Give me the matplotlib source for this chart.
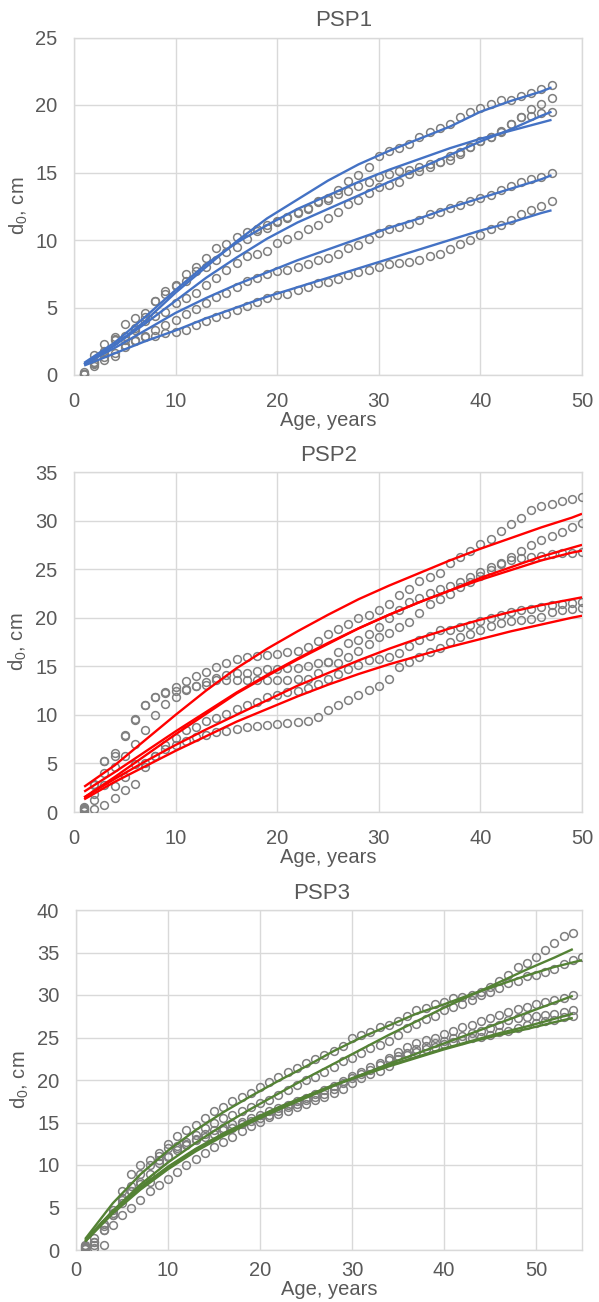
#!/usr/bin/env python3
"""Stem diameter growth by age on three permanent sample plots, with fitted curves."""
import matplotlib.pyplot as plt

OUT_PNG = "out.png"

GRAY = "#7f7f7f"
TEXT = "#595959"
GRID = "#d9d9d9"

# ---- PSP1: measured d0 (cm) by age, five trees ----
PSP1_AGE = list(range(1, 48))
PSP1_TREE_A = [0.2, 1.5, 2.3, 2.8, 3.8, 4.2, 4.6, 5.5, 6.2, 6.7,
               7.5, 8.0, 8.7, 9.4, 9.7, 10.2, 10.6, 10.8, 11.1, 11.4,
               11.7, 12.1, 12.4, 12.9, 13.1, 13.7, 14.4, 14.8, 15.4, 16.2,
               16.6, 16.8, 17.1, 17.6, 18.0, 18.3, 18.6, 19.1, 19.5, 19.8,
               20.1, 20.4, 20.4, 20.7, 20.9, 21.2, 21.5]
PSP1_TREE_B = [0.1, 1.0, 1.6, 2.6, 2.9, 3.5, 4.0, 5.5, 6.0, 6.6,
               7.0, 7.7, 8.0, 8.5, 9.1, 9.5, 10.1, 10.7, 10.9, 11.3,
               11.6, 12.0, 12.3, 12.8, 13.0, 13.4, 13.6, 14.0, 14.3, 14.7,
               14.9, 15.1, 15.2, 15.4, 15.6, 15.8, 16.2, 16.5, 16.9, 17.3,
               17.6, 18.1, 18.6, 19.1, 19.7, 20.1, 20.5]
PSP1_TREE_C = [0.1, 0.8, 1.8, 2.7, 2.6, 3.3, 4.3, 4.4, 4.7, 5.3,
               5.7, 6.1, 6.7, 7.2, 7.8, 8.3, 8.8, 9.0, 9.2, 9.8,
               10.1, 10.4, 10.8, 11.1, 11.6, 12.1, 12.7, 13.0, 13.5, 13.9,
               14.1, 14.3, 14.9, 15.1, 15.4, 15.8, 15.9, 16.4, 16.9, 17.3,
               17.6, 18.0, 18.6, 19.1, 19.2, 19.4, 19.5]
PSP1_TREE_D = [0.1, 0.9, 1.3, 1.6, 2.2, 2.6, 2.9, 3.3, 3.7, 4.1,
               4.5, 4.9, 5.3, 5.8, 6.1, 6.5, 7.0, 7.2, 7.5, 7.7,
               7.8, 8.0, 8.2, 8.5, 8.7, 9.0, 9.4, 9.6, 10.1, 10.5,
               10.8, 11.0, 11.2, 11.5, 11.9, 12.1, 12.4, 12.6, 12.9, 13.1,
               13.3, 13.7, 14.0, 14.3, 14.5, 14.7, 15.0]
PSP1_TREE_E = [0.1, 0.7, 1.1, 1.4, 2.1, 2.5, 2.8, 2.9, 3.1, 3.2,
               3.3, 3.7, 4.0, 4.3, 4.5, 4.8, 5.1, 5.4, 5.7, 5.9,
               6.0, 6.3, 6.5, 6.8, 6.9, 7.1, 7.4, 7.6, 7.8, 8.0,
               8.2, 8.3, 8.4, 8.5, 8.8, 9.0, 9.3, 9.7, 10.0, 10.4,
               10.8, 11.1, 11.5, 11.9, 12.2, 12.5, 12.9]

# fitted growth curves, PSP1
PSP1_FIT_AGE = [1, 4, 7, 10, 13, 16, 19, 22, 25, 28, 31, 34, 37, 40, 43, 46, 47]
PSP1_FIT_1 = [0.8, 2.2, 4.0, 6.1, 8.0, 9.9, 11.6, 13.0, 14.4, 15.6, 16.6, 17.5, 18.4, 19.5, 20.3, 21.0, 21.3]
PSP1_FIT_2 = [0.9, 2.4, 4.3, 6.3, 8.2, 9.8, 11.1, 12.3, 13.3, 14.3, 15.2, 16.0, 16.8, 17.5, 18.1, 18.7, 18.9]
PSP1_FIT_3 = [0.8, 2.2, 3.8, 5.5, 7.2, 8.7, 10.1, 11.3, 12.3, 13.3, 14.3, 15.3, 16.3, 17.3, 18.2, 19.2, 19.5]
PSP1_FIT_4 = [0.8, 2.0, 3.3, 4.6, 5.7, 6.7, 7.6, 8.5, 9.3, 10.1, 10.9, 11.6, 12.4, 13.1, 13.8, 14.5, 14.8]
PSP1_FIT_5 = [0.7, 1.6, 2.5, 3.3, 4.2, 5.0, 5.8, 6.5, 7.2, 7.9, 8.6, 9.3, 10.0, 10.7, 11.3, 12.0, 12.2]

# ---- PSP2 ----
PSP2_AGE = list(range(1, 51))
PSP2_TREE_A = [0.5, 2.9, 5.3, 6.1, 7.9, 9.6, 11.0, 11.8, 12.4, 12.9,
               13.5, 14.0, 14.4, 14.9, 15.3, 15.8, 16.0, 16.1, 16.2, 16.3,
               16.5, 16.6, 17.0, 17.6, 18.3, 18.8, 19.4, 20.0, 20.3, 20.8,
               21.4, 22.3, 23.0, 23.8, 24.2, 24.6, 25.6, 26.3, 26.9, 27.6,
               28.1, 28.9, 29.6, 30.3, 31.1, 31.5, 31.7, 32.0, 32.2, 32.4]
PSP2_TREE_B = [0.4, 2.8, 5.2, 5.8, 7.8, 9.5, 11.0, 11.8, 12.3, 12.5,
               12.7, 13.0, 13.4, 13.8, 14.1, 14.3, 14.3, 14.5, 14.7, 14.7,
               14.8, 14.8, 15.0, 15.3, 15.4, 16.5, 17.4, 17.7, 18.3, 19.0,
               20.0, 20.8, 21.6, 22.0, 22.5, 23.0, 23.3, 23.7, 24.2, 24.7,
               25.2, 25.6, 26.3, 26.9, 27.5, 28.0, 28.4, 28.8, 29.3, 29.7]
PSP2_TREE_C = [0.3, 1.9, 4.0, 4.6, 5.8, 7.0, 8.4, 10.0, 11.1, 11.8,
               12.6, 13.0, 13.1, 13.6, 13.6, 13.6, 13.6, 13.6, 13.6, 13.6,
               13.6, 13.7, 13.7, 14.3, 15.4, 15.3, 16.0, 16.6, 17.3, 18.0,
               18.4, 19.0, 19.6, 20.5, 21.4, 21.9, 22.4, 23.2, 23.7, 24.3,
               24.9, 25.5, 25.9, 26.1, 26.3, 26.4, 26.6, 26.7, 26.7, 26.8]
PSP2_TREE_D = [0.2, 1.2, 2.8, 2.7, 3.6, 4.9, 5.0, 5.8, 6.9, 7.6,
               8.4, 8.8, 9.4, 9.7, 10.1, 10.6, 11.0, 11.3, 11.8, 12.0,
               12.4, 12.5, 12.8, 13.2, 13.7, 14.2, 14.7, 15.1, 15.6, 15.8,
               16.0, 16.4, 17.1, 17.7, 18.1, 18.7, 18.7, 19.0, 19.3, 19.7,
               20.0, 20.3, 20.6, 20.8, 20.9, 21.1, 21.3, 21.4, 21.5, 21.6]
PSP2_TREE_E = [0.1, 0.3, 0.7, 1.4, 2.3, 2.9, 4.6, 5.8, 6.5, 6.9,
               7.3, 7.7, 7.9, 8.2, 8.3, 8.5, 8.8, 8.9, 9.0, 9.1,
               9.2, 9.3, 9.4, 9.8, 10.5, 11.0, 11.5, 12.0, 12.6, 13.0,
               13.7, 14.9, 15.4, 16.0, 16.5, 16.9, 17.5, 18.0, 18.3, 18.7,
               19.1, 19.5, 19.7, 19.8, 19.9, 20.1, 20.6, 20.8, 20.9, 21.0]

PSP2_FIT_AGE = [1, 4, 7, 10, 13, 16, 19, 22, 25, 28, 31, 34, 37, 40, 43, 46, 49, 50]
PSP2_FIT_1 = [2.6, 4.8, 7.4, 10.0, 12.5, 14.8, 16.8, 18.6, 20.3, 21.9, 23.3, 24.6, 25.9, 27.1, 28.2, 29.3, 30.3, 30.7]
PSP2_FIT_2 = [2.1, 4.1, 6.2, 8.3, 10.3, 12.3, 14.1, 15.8, 17.4, 18.9, 20.3, 21.6, 22.8, 24.1, 25.2, 26.3, 27.2, 27.5]
PSP2_FIT_3 = [1.5, 3.6, 5.8, 8.0, 10.1, 12.2, 14.0, 15.7, 17.3, 18.9, 20.3, 21.6, 22.8, 23.9, 24.9, 25.9, 26.7, 26.9]
PSP2_FIT_4 = [1.5, 3.4, 5.2, 6.9, 8.5, 10.0, 11.5, 13.0, 14.3, 15.6, 16.8, 17.9, 18.9, 19.8, 20.6, 21.3, 21.9, 22.1]
PSP2_FIT_5 = [1.3, 3.1, 4.7, 6.3, 7.8, 9.3, 10.6, 11.9, 13.1, 14.2, 15.2, 16.1, 17.0, 17.8, 18.6, 19.3, 20.0, 20.2]

# ---- PSP3 ----
PSP3_AGE_LONG = list(range(1, 56))
PSP3_AGE = list(range(1, 55))
PSP3_TREE_A = [0.6, 1.4, 3.1, 4.7, 6.9, 8.9, 10.0, 10.6, 11.4, 12.5,
               13.4, 14.1, 14.7, 15.5, 16.3, 16.8, 17.5, 18.0, 18.5, 19.2,
               19.8, 20.4, 21.0, 21.4, 22.0, 22.5, 23.0, 23.4, 24.0, 24.9,
               25.3, 25.7, 26.2, 26.5, 26.9, 27.5, 28.2, 28.5, 29.0, 29.2,
               29.6, 29.8, 30.0, 30.3, 30.4, 30.8, 31.4, 31.6, 32.2, 32.4,
               32.7, 33.1, 33.7, 34.1, 34.5]
PSP3_TREE_B = [0.5, 1.0, 2.8, 4.4, 6.1, 7.5, 9.0, 10.0, 11.1, 12.0,
               12.2, 12.7, 13.5, 14.3, 14.9, 15.5, 15.9, 16.3, 16.8, 17.3,
               17.6, 18.2, 18.8, 19.4, 20.0, 20.4, 20.9, 21.5, 22.2, 22.6,
               23.2, 23.8, 24.1, 24.6, 25.3, 26.1, 26.6, 27.2, 27.5, 28.2,
               28.6, 29.0, 29.4, 30.0, 31.0, 31.6, 32.4, 33.3, 33.8, 34.5,
               35.3, 36.1, 36.9, 37.3]
PSP3_TREE_C = [0.4, 1.0, 2.4, 4.1, 5.9, 7.0, 8.0, 8.9, 10.6, 11.1,
               12.0, 12.5, 13.1, 13.6, 14.1, 14.4, 14.8, 15.1, 15.5, 15.9,
               16.3, 16.7, 17.1, 17.5, 17.9, 18.4, 18.8, 19.3, 19.9, 20.5,
               21.0, 21.5, 22.0, 22.6, 23.3, 23.9, 24.3, 24.7, 25.0, 25.4,
               25.8, 26.2, 26.5, 26.9, 27.3, 27.6, 28.0, 28.3, 28.6, 28.9,
               29.2, 29.4, 29.6, 30.0]
PSP3_TREE_D = [0.2, 0.6, 2.4, 4.1, 5.5, 7.0, 7.8, 8.0, 10.2, 11.0,
               11.8, 12.4, 12.9, 13.3, 13.7, 14.1, 14.4, 14.8, 15.2, 15.5,
               15.9, 16.3, 16.8, 17.2, 17.6, 18.0, 18.4, 19.0, 19.6, 20.2,
               20.7, 21.2, 21.8, 22.3, 22.8, 23.2, 23.6, 24.0, 24.3, 24.6,
               24.9, 25.2, 25.5, 25.8, 26.1, 26.5, 27.1, 27.3, 27.4, 27.5,
               27.6, 27.8, 28.0, 28.2]
PSP3_TREE_E = [0.1, 0.2, 0.6, 2.9, 4.1, 5.0, 5.9, 6.9, 7.6, 8.4,
               9.2, 10.0, 10.7, 11.4, 12.1, 12.7, 13.3, 14.0, 14.6, 15.1,
               15.6, 16.0, 16.4, 16.8, 17.2, 17.6, 18.0, 18.5, 19.0, 19.7,
               20.2, 20.7, 21.1, 21.6, 22.5, 22.9, 23.3, 23.6, 23.9, 24.2,
               24.5, 24.7, 24.9, 25.1, 25.3, 25.6, 25.8, 26.1, 26.5, 26.7,
               26.9, 27.1, 27.4, 27.5]

PSP3_FIT_AGE = [1, 4, 7, 10, 13, 16, 19, 22, 25, 28, 31, 34, 37, 40, 43, 46, 49, 52, 54]
PSP3_FIT_AGE_LONG = [1, 4, 7, 10, 13, 16, 19, 22, 25, 28, 31, 34, 37, 40, 43, 46, 49, 52, 55]
PSP3_FIT_1 = [1.3, 5.5, 8.9, 11.7, 14.1, 16.2, 18.1, 19.9, 21.6, 23.4, 25.0, 26.4, 27.8, 28.9, 30.1, 31.2, 32.3, 33.3, 34.1]
PSP3_FIT_2 = [1.0, 4.6, 7.7, 10.3, 12.6, 14.7, 16.6, 18.4, 20.2, 21.9, 23.6, 25.3, 26.9, 28.5, 30.0, 31.5, 33.0, 34.4, 35.4]
PSP3_FIT_3 = [1.0, 4.3, 7.1, 9.5, 11.6, 13.4, 15.0, 16.5, 17.9, 19.3, 20.6, 21.9, 23.1, 24.3, 25.5, 26.7, 27.9, 29.1, 29.9]
PSP3_FIT_4 = [1.1, 4.5, 7.3, 9.7, 11.8, 13.6, 15.2, 16.7, 18.1, 19.4, 20.6, 21.7, 22.7, 23.7, 24.6, 25.5, 26.3, 27.2, 27.8]
PSP3_FIT_5 = [1.2, 4.6, 7.4, 9.8, 11.9, 13.7, 15.3, 16.8, 18.1, 19.4, 20.5, 21.6, 22.6, 23.6, 24.5, 25.3, 26.0, 26.8, 27.3]


def draw_panel(ax, title, title_x, trees, fits, color, xmax, ymax, ystep,
               xpad=12, xlabelpad=0):
    for ages, d in trees:
        ax.plot(ages, d, ls="none", marker="o", mfc="none", mec=GRAY,
                ms=5.6, mew=1.1, zorder=3)
    for ages, f in fits:
        ax.plot(ages, f, color=color, lw=1.7, zorder=4, solid_capstyle="butt")

    ax.set_xlim(0, xmax)
    ax.set_ylim(0, ymax)
    ax.set_xticks(range(0, xmax + 1, 10))
    ax.set_yticks(range(0, ymax + 1, ystep))
    ax.grid(True, color=GRID, lw=1.0)
    ax.set_axisbelow(True)
    for sp in ax.spines.values():
        sp.set_color(GRID)
        sp.set_linewidth(1.0)
    ax.tick_params(length=0, labelsize=14.5, labelcolor=TEXT)
    ax.tick_params(axis="y", pad=12)
    ax.tick_params(axis="x", pad=xpad)
    ax.set_title(title, fontsize=16, color=TEXT, pad=8, x=title_x)
    ax.set_xlabel("Age, years", fontsize=14.5, color=TEXT, labelpad=xlabelpad)
    ax.set_ylabel("d$_0$, cm", fontsize=14.5, color=TEXT, labelpad=4)


def main():
    plt.rcParams["font.family"] = ["Liberation Sans", "DejaVu Sans"]
    plt.rcParams["mathtext.default"] = "regular"

    fig = plt.figure(figsize=(5.99, 13.02), dpi=100)
    ax1 = fig.add_axes([74 / 599, 1 - 375 / 1302, 508 / 599, 337.5 / 1302])
    ax2 = fig.add_axes([74 / 599, 1 - 812 / 1302, 508 / 599, 340 / 1302])
    ax3 = fig.add_axes([76 / 599, 1 - 1250 / 1302, 506 / 599, 340 / 1302])

    psp1_trees = [(PSP1_AGE, t) for t in
                  (PSP1_TREE_A, PSP1_TREE_B, PSP1_TREE_C, PSP1_TREE_D, PSP1_TREE_E)]
    psp1_fits = [(PSP1_FIT_AGE, f) for f in
                 (PSP1_FIT_1, PSP1_FIT_2, PSP1_FIT_3, PSP1_FIT_4, PSP1_FIT_5)]
    draw_panel(ax1, "PSP1", 0.53, psp1_trees, psp1_fits, "#4472c4", 50, 25, 5)

    psp2_trees = [(PSP2_AGE, t) for t in
                  (PSP2_TREE_A, PSP2_TREE_B, PSP2_TREE_C, PSP2_TREE_D, PSP2_TREE_E)]
    psp2_fits = [(PSP2_FIT_AGE, f) for f in
                 (PSP2_FIT_1, PSP2_FIT_2, PSP2_FIT_3, PSP2_FIT_4, PSP2_FIT_5)]
    draw_panel(ax2, "PSP2", 0.502, psp2_trees, psp2_fits, "#ff0000", 50, 35, 5)

    psp3_trees = [(PSP3_AGE_LONG, PSP3_TREE_A)] + [(PSP3_AGE, t) for t in
                  (PSP3_TREE_B, PSP3_TREE_C, PSP3_TREE_D, PSP3_TREE_E)]
    psp3_fits = [(PSP3_FIT_AGE_LONG, PSP3_FIT_1)] + [(PSP3_FIT_AGE, f) for f in
                 (PSP3_FIT_2, PSP3_FIT_3, PSP3_FIT_4, PSP3_FIT_5)]
    # bottom panel sits close to the page edge, so its x labels are packed tighter
    draw_panel(ax3, "PSP3", 0.486, psp3_trees, psp3_fits, "#548235", 55, 40, 5,
               xpad=8, xlabelpad=0)

    fig.savefig(OUT_PNG, dpi=100)


if __name__ == "__main__":
    main()
